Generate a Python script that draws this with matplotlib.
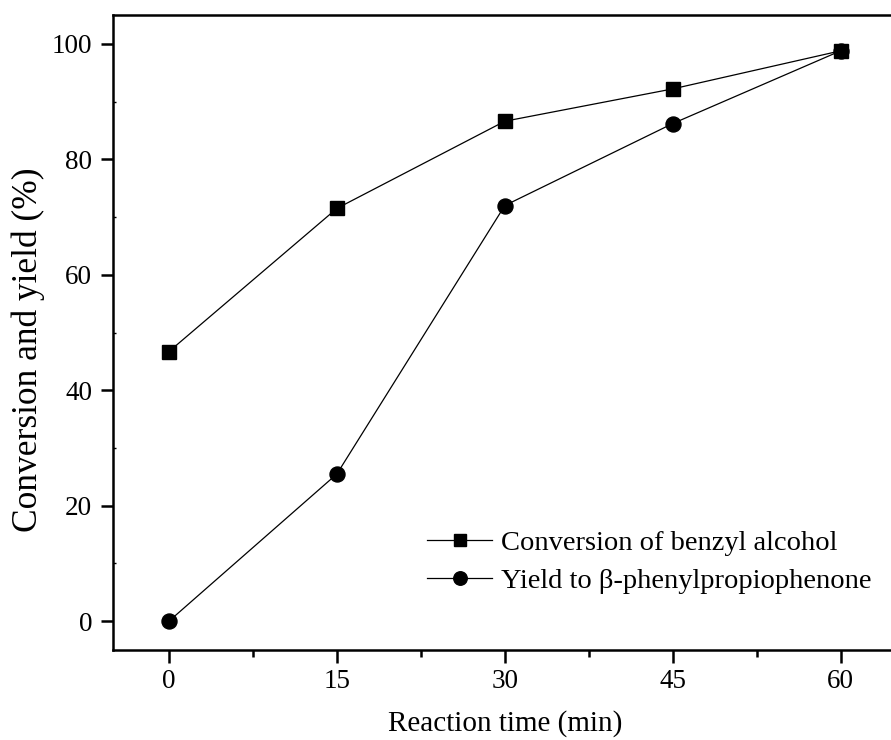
import numpy as np
import matplotlib
matplotlib.use("Agg")
import matplotlib.pyplot as plt
import matplotlib.ticker as mtick

# Data
time_min = [0, 15, 30, 45, 60]
conversion = [46.7, 71.5, 86.6, 92.2, 98.8]
yield_pp = [0.0, 25.5, 72.0, 86.2, 98.8]
labels = ["Conversion of benzyl alcohol", "Yield to \u03b2-phenylpropiophenone"]
xtitle = "Reaction time (min)"
ytitle = "Conversion and yield (%)"

plt.rcParams['font.family'] = ['Liberation Serif', 'DejaVu Serif']

fig = plt.figure(figsize=(8.91, 7.40), dpi=100)
# right spine falls just outside the picture, as in the cropped original
ax = fig.add_axes([113 / 891, 1 - 650 / 740, (896.7 - 113) / 891, (650 - 15) / 740])

ax.plot(time_min, conversion, color='black', lw=0.9, marker='s', ms=9.5, label=labels[0])
ax.plot(time_min, yield_pp, color='black', lw=0.9, marker='o', ms=10.8, label=labels[1])

ax.set_xlim(-5, 65)
ax.set_ylim(-5, 105)
ax.xaxis.set_major_locator(mtick.MultipleLocator(15))
ax.xaxis.set_minor_locator(mtick.MultipleLocator(7.5))
ax.yaxis.set_major_locator(mtick.MultipleLocator(20))
ax.yaxis.set_minor_locator(mtick.MultipleLocator(10))

for s in ax.spines.values():
    s.set_linewidth(1.8)

ax.tick_params(axis='x', which='major', direction='out', length=9, width=1.8,
               labelsize=19.5, pad=5, top=False)
ax.tick_params(axis='x', which='minor', direction='out', length=5, width=1.8, top=False)
ax.tick_params(axis='y', which='major', direction='out', length=9, width=1.8,
               labelsize=19.5, pad=6, right=False)
ax.tick_params(axis='y', which='minor', direction='in', length=2, width=1.0, right=False)

ax.set_xlabel(xtitle, fontsize=21, labelpad=11)
fig.text(28 / 891, 1 - 350 / 740, ytitle, fontsize=25.5, rotation=90,
         ha='center', va='center')

ax.legend(loc='center left', bbox_to_anchor=(427 / 891, 1 - 562 / 740),
          bbox_transform=fig.transFigure, frameon=False, fontsize=20.5,
          borderpad=0, borderaxespad=0, handlelength=2.3, handletextpad=0.3,
          labelspacing=0.4, markerscale=0.9)

fig.savefig("out.png", dpi=100)
